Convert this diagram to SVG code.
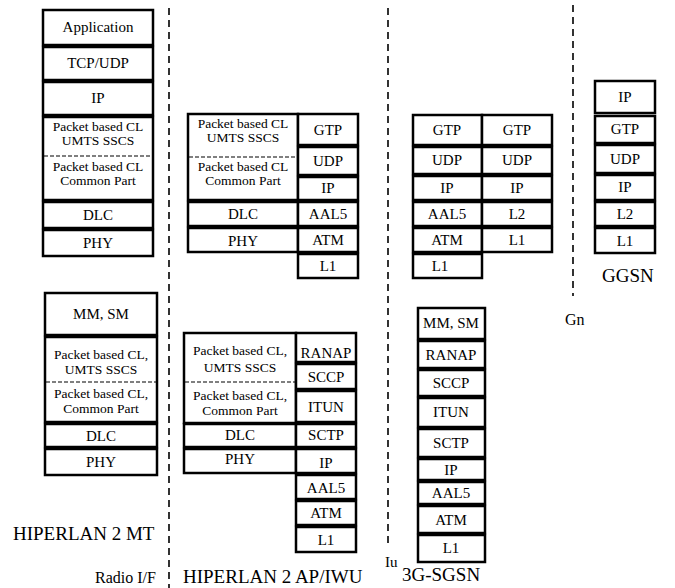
<svg xmlns="http://www.w3.org/2000/svg" width="675" height="588" viewBox="0 0 675 588" font-family="Liberation Serif, DejaVu Serif, serif">
<style>
.b{fill:#fff;stroke:#000;stroke-width:2.5}
.d{stroke:#000;stroke-width:1.2;stroke-dasharray:4 2;fill:none}
.v{stroke:#000;stroke-width:1.6;stroke-dasharray:7 5;fill:none}
.t{font-size:15px;text-anchor:middle}
.s{font-size:13.5px;text-anchor:middle}
.l{font-size:19px}
</style>
<rect width="675" height="588" fill="#fff"/>
<g id="connectors">
<line class="v" x1="169" y1="8" x2="169" y2="588"/>
<line class="v" x1="388" y1="8" x2="388" y2="545"/>
<line class="v" x1="573" y1="5" x2="573" y2="296"/>
</g>
<g id="mt-user">
<rect class="b" x="43" y="10" width="110" height="35"/><text class="t" x="98" y="32">Application</text>
<rect class="b" x="43" y="47" width="110" height="33"/><text class="t" x="98" y="68">TCP/UDP</text>
<rect class="b" x="43" y="82" width="110" height="33"/><text class="t" x="98" y="103">IP</text>
<rect class="b" x="43" y="117" width="110" height="83"/><line class="d" x1="44" y1="156" x2="152" y2="156"/>
<text class="s" x="98" y="131">Packet based CL</text><text class="s" x="98" y="145">UMTS SSCS</text>
<text class="s" x="98" y="171">Packet based CL</text><text class="s" x="98" y="185">Common Part</text>
<rect class="b" x="43" y="202" width="110" height="26"/><text class="t" x="98" y="220">DLC</text>
<rect class="b" x="43" y="230" width="110" height="26"/><text class="t" x="98" y="248">PHY</text>
</g>
<g id="ap-user">
<rect class="b" x="188" y="114" width="110" height="86"/><line class="d" x1="189" y1="157" x2="297" y2="157"/>
<text class="s" x="243" y="128">Packet based CL</text><text class="s" x="243" y="142">UMTS SSCS</text>
<text class="s" x="243" y="171">Packet based CL</text><text class="s" x="243" y="185">Common Part</text>
<rect class="b" x="188" y="202" width="110" height="24"/><text class="t" x="243" y="219">DLC</text>
<rect class="b" x="188" y="228" width="110" height="24"/><text class="t" x="243" y="246">PHY</text>
<rect class="b" x="298" y="114" width="60" height="31"/><text class="t" x="328" y="135">GTP</text>
<rect class="b" x="298" y="147" width="60" height="28"/><text class="t" x="328" y="166">UDP</text>
<rect class="b" x="298" y="177" width="60" height="23"/><text class="t" x="328" y="193">IP</text>
<rect class="b" x="298" y="202" width="60" height="24"/><text class="t" x="328" y="219">AAL5</text>
<rect class="b" x="298" y="228" width="60" height="24"/><text class="t" x="328" y="245">ATM</text>
<rect class="b" x="298" y="254" width="60" height="24"/><text class="t" x="328" y="271">L1</text>
</g>
<g id="sgsn-user">
<rect class="b" x="413" y="115" width="69" height="30"/><text class="t" x="447" y="135">GTP</text>
<rect class="b" x="413" y="147" width="69" height="27"/><text class="t" x="447" y="165">UDP</text>
<rect class="b" x="413" y="176" width="69" height="24"/><text class="t" x="447" y="193">IP</text>
<rect class="b" x="413" y="202" width="69" height="24"/><text class="t" x="447" y="219">AAL5</text>
<rect class="b" x="413" y="228" width="69" height="24"/><text class="t" x="447" y="245">ATM</text>
<rect class="b" x="413" y="254" width="69" height="24"/><text class="t" x="440" y="271">L1</text>
<rect class="b" x="482" y="115" width="70" height="30"/><text class="t" x="517" y="135">GTP</text>
<rect class="b" x="482" y="147" width="70" height="27"/><text class="t" x="517" y="165">UDP</text>
<rect class="b" x="482" y="176" width="70" height="24"/><text class="t" x="517" y="193">IP</text>
<rect class="b" x="482" y="202" width="70" height="24"/><text class="t" x="517" y="219">L2</text>
<rect class="b" x="482" y="228" width="70" height="24"/><text class="t" x="517" y="245">L1</text>
</g>
<g id="ggsn">
<rect class="b" x="595" y="81" width="60" height="32"/><text class="t" x="625" y="102">IP</text>
<rect class="b" x="595" y="116" width="60" height="27"/><text class="t" x="625" y="134">GTP</text>
<rect class="b" x="595" y="145" width="60" height="28"/><text class="t" x="625" y="164">UDP</text>
<rect class="b" x="595" y="175" width="60" height="25"/><text class="t" x="625" y="192">IP</text>
<rect class="b" x="595" y="202" width="60" height="24"/><text class="t" x="625" y="219">L2</text>
<rect class="b" x="595" y="228" width="60" height="25"/><text class="t" x="625" y="246">L1</text>
<text class="l" x="602" y="282">GGSN</text>
</g>
<g id="mt-control">
<rect class="b" x="45" y="293" width="112" height="42"/><text class="t" x="101" y="319">MM, SM</text>
<rect class="b" x="45" y="337" width="112" height="85"/><line class="d" x1="46" y1="382" x2="156" y2="382"/>
<text class="s" x="101" y="359">Packet based CL,</text><text class="s" x="101" y="374">UMTS SSCS</text>
<text class="s" x="101" y="398">Packet based CL,</text><text class="s" x="101" y="413">Common Part</text>
<rect class="b" x="45" y="424" width="112" height="23"/><text class="t" x="101" y="441">DLC</text>
<rect class="b" x="45" y="449" width="112" height="26"/><text class="t" x="101" y="467">PHY</text>
</g>
<g id="ap-control">
<rect class="b" x="184" y="333" width="112" height="90"/><line class="d" x1="185" y1="382" x2="295" y2="382"/>
<text class="s" x="240" y="355">Packet based CL,</text><text class="s" x="240" y="372">UMTS SSCS</text>
<text class="s" x="240" y="400">Packet based CL,</text><text class="s" x="240" y="415">Common Part</text>
<rect class="b" x="184" y="424" width="112" height="23"/><text class="t" x="240" y="440">DLC</text>
<rect class="b" x="184" y="449" width="112" height="24"/><text class="t" x="240" y="464">PHY</text>
<rect class="b" x="296" y="333" width="60" height="29"/><text class="t" x="326" y="358">RANAP</text>
<rect class="b" x="296" y="364" width="60" height="25"/><text class="t" x="326" y="382">SCCP</text>
<rect class="b" x="296" y="391" width="60" height="31"/><text class="t" x="326" y="412">ITUN</text>
<rect class="b" x="296" y="424" width="60" height="23"/><text class="t" x="326" y="440">SCTP</text>
<rect class="b" x="296" y="449" width="60" height="24"/><text class="t" x="326" y="468">IP</text>
<rect class="b" x="296" y="475" width="60" height="24"/><text class="t" x="326" y="493">AAL5</text>
<rect class="b" x="296" y="501" width="60" height="24"/><text class="t" x="326" y="518">ATM</text>
<rect class="b" x="296" y="527" width="60" height="25"/><text class="t" x="326" y="545">L1</text>
</g>
<g id="sgsn-control">
<rect class="b" x="418" y="308" width="67" height="31"/><text class="t" x="451" y="328">MM, SM</text>
<rect class="b" x="418" y="341" width="67" height="27"/><text class="t" x="451" y="360">RANAP</text>
<rect class="b" x="418" y="370" width="67" height="26"/><text class="t" x="451" y="388">SCCP</text>
<rect class="b" x="418" y="398" width="67" height="29"/><text class="t" x="451" y="417">ITUN</text>
<rect class="b" x="418" y="429" width="67" height="28"/><text class="t" x="451" y="448">SCTP</text>
<rect class="b" x="418" y="459" width="67" height="21"/><text class="t" x="451" y="475">IP</text>
<rect class="b" x="418" y="482" width="67" height="22"/><text class="t" x="451" y="498">AAL5</text>
<rect class="b" x="418" y="506" width="67" height="27"/><text class="t" x="451" y="525">ATM</text>
<rect class="b" x="418" y="535" width="67" height="27"/><text class="t" x="451" y="553">L1</text>
</g>
<g id="labels">
<text class="l" x="13" y="540">HIPERLAN 2 MT</text>
<text x="95" y="583" font-size="16">Radio I/F</text>
<text class="l" x="183" y="583">HIPERLAN 2 AP/IWU</text>
<text x="385" y="567" font-size="15">Iu</text>
<text class="l" x="402" y="581">3G-SGSN</text>
<text x="565" y="325" font-size="16">Gn</text>
</g>
</svg>
